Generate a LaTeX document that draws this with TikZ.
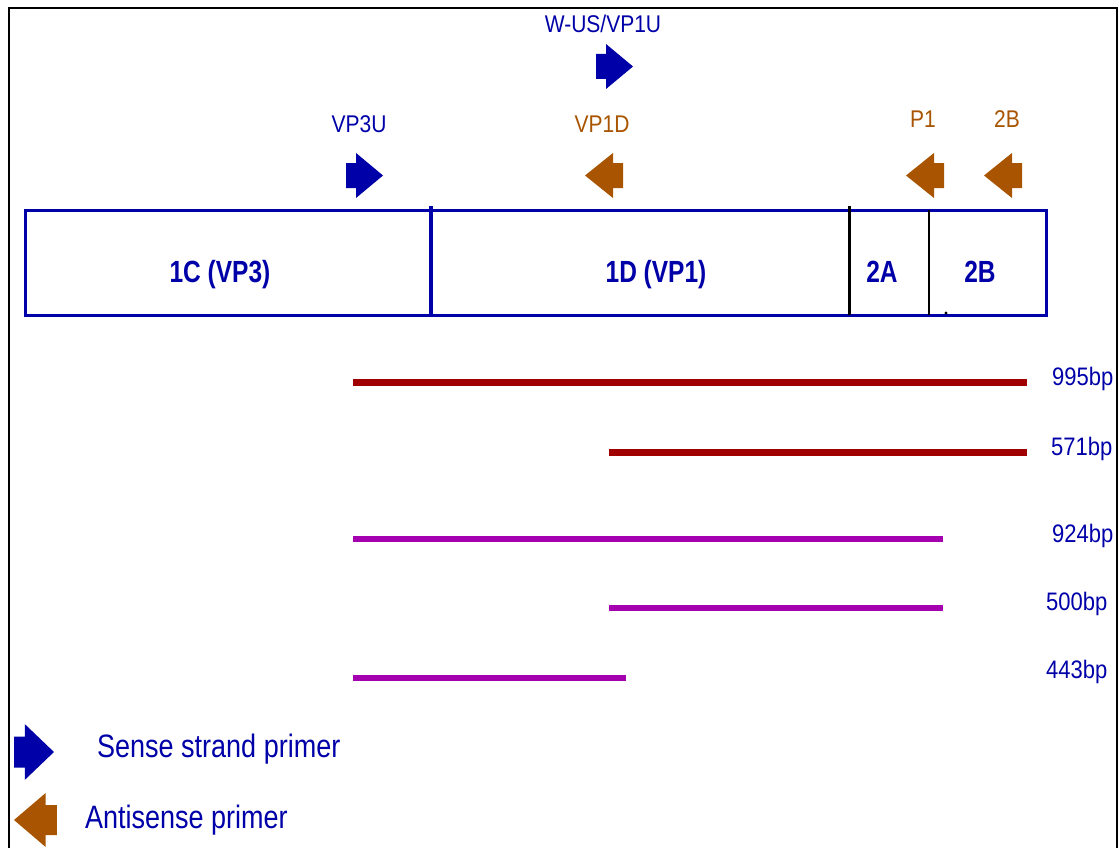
\documentclass[tikz,border=0pt]{standalone}
\usepackage{fontspec}
\setmainfont{Liberation Sans}
\definecolor{sense}{HTML}{0000A8}
\definecolor{anti}{HTML}{A85400}
\definecolor{ampred}{HTML}{A00000}
\definecolor{ampmag}{HTML}{A400B0}
% taller-than-wide lettering
\newcommand\stretchy[2][1.15]{\scalebox{1}[#1]{#2}}
\begin{document}
\begin{tikzpicture}[x=1pt,y=-1pt,
  senseprimer/.pic={\fill[sense] (0,-12.5) -- (10,-12.5) -- (10,-22.5) -- (37,0)
      -- (10,22.5) -- (10,12.5) -- (0,12.5) -- cycle;},
  antiprimer/.pic={\fill[anti] (0,0) -- (28,-22.5) -- (28,-12.5) -- (38,-12.5)
      -- (38,12.5) -- (28,12.5) -- (28,22.5) -- cycle;},
  primerlbl/.style={inner sep=0pt, anchor=base, font=\fontsize{21}{24}\selectfont},
  senselbl/.style={primerlbl, text=sense},
  antilbl/.style={primerlbl, text=anti},
  genelbl/.style={inner sep=0pt, anchor=base, text=sense,
      font=\fontsize{24.5}{28}\selectfont\bfseries},
  sizelbl/.style={inner sep=0pt, anchor=base west, text=sense,
      font=\fontsize{22}{25}\selectfont},
  legendlbl/.style={inner sep=0pt, anchor=base west, text=sense,
      font=\fontsize{27}{30}\selectfont},
  genome/.style={draw=sense, line width=3pt},
  amp995/.style={draw=ampred, line width=7pt},
  ampnested/.style={draw=ampmag, line width=6pt},
]
\useasboundingbox (0,0) rectangle (1119,848);

% outer frame (open at the bottom)
\draw[line width=2.5pt] (9,860) -- (9,8) -- (1117,8) -- (1117,860);

% genome segment map
\coordinate (mapNW) at (25,210);
\coordinate (mapSE) at (1046,315);
\draw[genome] (mapNW) rectangle (mapSE);
\draw[draw=sense, line width=4pt] (431,206) -- (431,315);
\draw[line width=3pt] (849,206) -- (849,315);
\draw[line width=2pt] (929,210) -- (929,315);
\fill (946,313) circle (1.6);

\node[genelbl] (g1C) at (220,282) {\stretchy[1.25]{1C (VP3)}};
\node[genelbl] (g1D) at (656,282) {\stretchy[1.25]{1D (VP1)}};
\node[genelbl] (g2A) at (882,282) {\stretchy[1.25]{2A}};
\node[genelbl] (g2B) at (980,282) {\stretchy[1.25]{2B}};

% primers
\pic at (346,175.5) {senseprimer};
\pic at (596,66.5) {senseprimer};
\pic at (585,175.5) {antiprimer};
\pic at (906,175.5) {antiprimer};
\pic at (984,175.5) {antiprimer};

\node[senselbl] (pVP3U) at (359,133) {\stretchy{VP3U}};
\node[senselbl] (pVP1U) at (603,33) {\stretchy{W-US/VP1U}};
\node[antilbl] (pVP1D) at (602,133) {\stretchy{VP1D}};
\node[antilbl] (pP1) at (923,128) {\stretchy{P1}};
\node[antilbl] (p2B) at (1007,128) {\stretchy{2B}};

% amplicons
\coordinate (a1s) at (353,382);  \coordinate (a1e) at (1027,382);
\coordinate (a2s) at (609,452);  \coordinate (a2e) at (1027,452);
\coordinate (a3s) at (353,539);  \coordinate (a3e) at (943,539);
\coordinate (a4s) at (609,608);  \coordinate (a4e) at (943,608);
\coordinate (a5s) at (353,678);  \coordinate (a5e) at (626,678);
\draw[amp995] (a1s) -- (a1e);
\draw[amp995] (a2s) -- (a2e);
\draw[ampnested] (a3s) -- (a3e);
\draw[ampnested] (a4s) -- (a4e);
\draw[ampnested] (a5s) -- (a5e);

\node[sizelbl] (s995) at (1052,385) {\stretchy{995bp}};
\node[sizelbl] (s571) at (1051,455) {\stretchy{571bp}};
\node[sizelbl] (s924) at (1052,542) {\stretchy{924bp}};
\node[sizelbl] (s500) at (1046,610) {\stretchy{500bp}};
\node[sizelbl] (s443) at (1046,678) {\stretchy{443bp}};

% legend
\pic[xscale=1.08, yscale=1.24] at (14,752) {senseprimer};
\pic[xscale=1.13, yscale=1.2] at (14,820) {antiprimer};
\node[legendlbl] (legS) at (97,757) {\stretchy[1.2]{Sense strand primer}};
\node[legendlbl] (legA) at (85,828) {\stretchy[1.2]{Antisense primer}};
\end{tikzpicture}
\end{document}
